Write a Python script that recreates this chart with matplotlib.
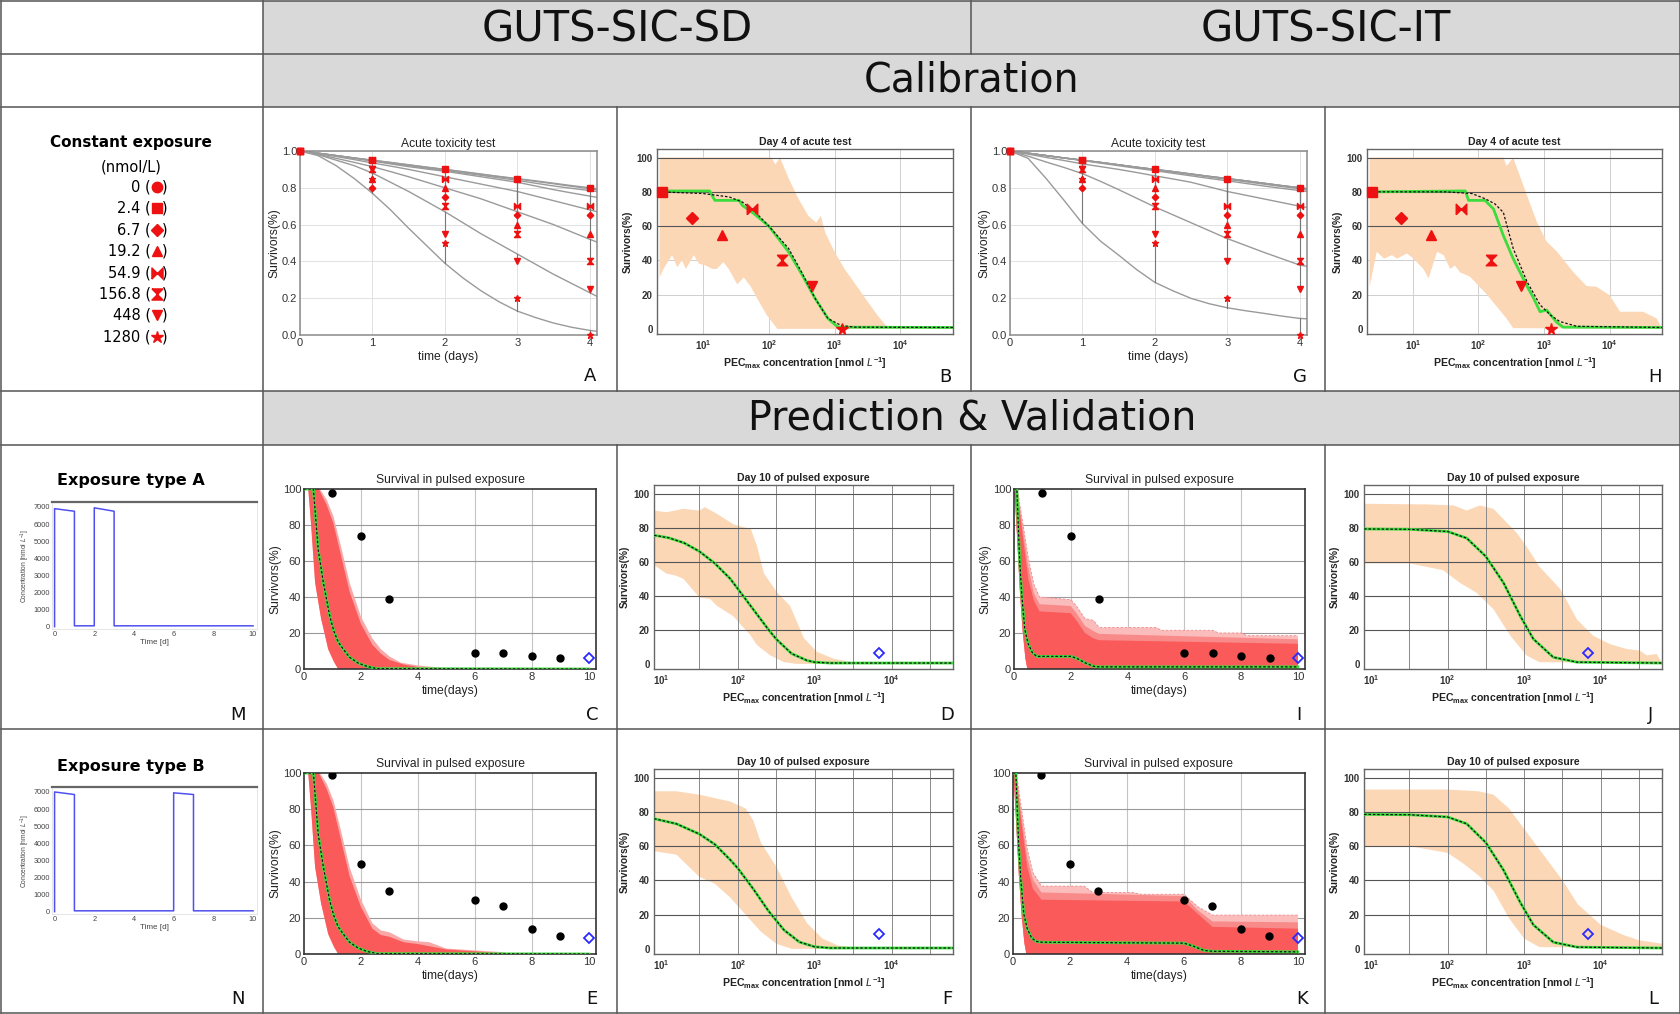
import numpy as np
import matplotlib
matplotlib.use('Agg')
import matplotlib.pyplot as plt
from matplotlib.patches import Rectangle
from matplotlib.path import Path

W, H = 1681, 1014

plt.rcParams['font.family'] = ['Liberation Sans', 'DejaVu Sans']
plt.rcParams['mathtext.fontset'] = 'custom'
plt.rcParams['mathtext.rm'] = 'Liberation Sans'
plt.rcParams['mathtext.it'] = 'Liberation Sans:italic'
plt.rcParams['mathtext.bf'] = 'Liberation Sans:bold'

# ---------------- data ----------------
conc_labels = ['0', '2.4', '6.7', '19.2', '54.9', '156.8', '448', '1280']
conc_values = [0, 2.4, 6.7, 19.2, 54.9, 156.8, 448, 1280]

# acute test, observed survival fraction at days 0..4
days_obs = [0, 1, 2, 3, 4]
obs_surv = [
    [1.0, 0.95, 0.90, 0.85, 0.80],
    [1.0, 0.95, 0.90, 0.85, 0.80],
    [1.0, 0.80, 0.75, 0.65, 0.65],
    [1.0, 0.85, 0.80, 0.60, 0.55],
    [1.0, 0.95, 0.85, 0.70, 0.70],
    [1.0, 0.90, 0.70, 0.55, 0.40],
    [1.0, 0.90, 0.55, 0.40, 0.25],
    [1.0, 0.85, 0.50, 0.20, 0.00],
]

# model curves (read every quarter day)
days_model = [0, 0.25, 0.5, 0.75, 1, 1.25, 1.5, 1.75, 2, 2.25, 2.5, 2.75, 3, 3.25, 3.5, 3.75, 4, 4.1]
sd_model = [
    [1.0, 0.988, 0.975, 0.962, 0.95, 0.938, 0.925, 0.912, 0.90, 0.888, 0.875, 0.862, 0.85, 0.838, 0.825, 0.812, 0.80, 0.795],
    [1.0, 0.988, 0.975, 0.962, 0.95, 0.937, 0.925, 0.912, 0.90, 0.886, 0.873, 0.86, 0.848, 0.835, 0.822, 0.808, 0.795, 0.79],
    [1.0, 0.988, 0.975, 0.962, 0.948, 0.934, 0.92, 0.907, 0.895, 0.881, 0.868, 0.854, 0.84, 0.825, 0.81, 0.797, 0.785, 0.78],
    [1.0, 0.988, 0.975, 0.96, 0.945, 0.93, 0.915, 0.902, 0.89, 0.875, 0.86, 0.845, 0.83, 0.81, 0.79, 0.772, 0.755, 0.748],
    [1.0, 0.986, 0.97, 0.953, 0.935, 0.918, 0.90, 0.88, 0.86, 0.84, 0.82, 0.80, 0.78, 0.755, 0.73, 0.705, 0.68, 0.67],
    [1.0, 0.982, 0.96, 0.938, 0.915, 0.888, 0.86, 0.83, 0.80, 0.77, 0.74, 0.705, 0.67, 0.635, 0.60, 0.56, 0.52, 0.505],
    [1.0, 0.98, 0.95, 0.92, 0.88, 0.83, 0.78, 0.725, 0.67, 0.61, 0.55, 0.495, 0.44, 0.385, 0.33, 0.28, 0.23, 0.21],
    [1.0, 0.975, 0.92, 0.85, 0.77, 0.68, 0.58, 0.485, 0.39, 0.31, 0.24, 0.18, 0.13, 0.095, 0.065, 0.042, 0.025, 0.02],
]
it_model = [
    [1.0, 0.988, 0.975, 0.962, 0.95, 0.938, 0.925, 0.912, 0.90, 0.888, 0.875, 0.862, 0.85, 0.838, 0.825, 0.812, 0.80, 0.795],
    [1.0, 0.988, 0.975, 0.962, 0.95, 0.938, 0.925, 0.912, 0.90, 0.888, 0.875, 0.862, 0.85, 0.838, 0.825, 0.812, 0.80, 0.795],
    [1.0, 0.988, 0.975, 0.962, 0.95, 0.938, 0.925, 0.912, 0.90, 0.888, 0.875, 0.862, 0.85, 0.838, 0.825, 0.812, 0.80, 0.795],
    [1.0, 0.988, 0.975, 0.962, 0.95, 0.937, 0.925, 0.911, 0.898, 0.885, 0.872, 0.859, 0.846, 0.833, 0.82, 0.807, 0.795, 0.79],
    [1.0, 0.988, 0.975, 0.961, 0.948, 0.934, 0.92, 0.906, 0.893, 0.879, 0.865, 0.851, 0.838, 0.824, 0.81, 0.797, 0.785, 0.78],
    [1.0, 0.983, 0.965, 0.948, 0.93, 0.915, 0.90, 0.883, 0.865, 0.848, 0.83, 0.805, 0.78, 0.76, 0.74, 0.72, 0.70, 0.693],
    [1.0, 0.972, 0.94, 0.91, 0.877, 0.835, 0.79, 0.743, 0.696, 0.653, 0.61, 0.567, 0.524, 0.487, 0.45, 0.415, 0.38, 0.373],
    [1.0, 0.96, 0.85, 0.73, 0.606, 0.51, 0.434, 0.355, 0.286, 0.24, 0.199, 0.17, 0.148, 0.132, 0.118, 0.103, 0.09, 0.088],
]

# day 4 dose-response (B: SD, H: IT), log10 concentration / survival %
b_up_logc = [0.34, 2.04, 2.1, 2.17, 2.3, 2.45, 2.6, 2.72, 2.79, 2.86, 3.0, 3.15, 3.3, 3.5, 3.65, 3.78, 3.85, 4.8]
b_up_val = [100, 100, 96, 100, 88, 76, 66, 62, 66, 56, 45, 35, 27, 16, 8, 2, 0.5, 0.5]
b_lo_logc = [0.34, 0.40, 0.53, 0.61, 0.68, 0.74, 0.86, 0.94, 1.04, 1.14, 1.21, 1.31, 1.39, 1.52, 1.62, 1.72, 1.82, 1.97, 2.13, 4.8]
b_lo_val = [30, 35, 43, 36, 40, 35, 43, 38, 37, 35, 35, 39, 35, 26, 30, 25, 18, 8, 0, 0]
b_dash_logc = [0.34, 1.0, 1.4, 1.6, 1.8, 2.0, 2.3, 2.5, 2.7, 2.9, 3.1, 3.3, 4.8]
b_dash_val = [80, 79, 77, 74, 68, 60, 47, 33, 18, 6, 2, 1, 0.8]
b_green_logc = [0.34, 1.1, 1.18, 1.55, 1.6, 1.75, 2.0, 2.3, 2.5, 2.7, 2.9, 3.05, 4.8]
b_green_val = [80.5, 80.5, 75, 75, 72, 68, 60, 45, 32, 18, 6, 1, 0.8]

h_up_logc = [0.34, 2.38, 2.43, 2.53, 2.74, 2.89, 3.04, 3.2, 3.45, 3.65, 3.8, 4.0, 4.16, 4.26, 4.51, 4.72]
h_up_val = [100, 100, 95, 100, 78, 62.5, 51, 45, 33, 25, 24.6, 19.6, 10, 10, 10, 6]
h_lo_logc = [0.34, 0.45, 0.56, 0.68, 0.76, 0.91, 1.01, 1.16, 1.24, 1.37, 1.47, 1.57, 1.64, 1.72, 1.87, 2.13, 2.43, 2.53, 4.8]
h_lo_val = [24.6, 45, 41, 43, 41, 44, 41, 35, 29.5, 45, 43, 35, 37, 33, 30.5, 20, 6, 0.4, 0]
h_dash_logc = [0.34, 1.5, 1.9, 2.1, 2.25, 2.38, 2.53, 2.74, 2.94, 3.1, 3.24, 3.5, 4.8]
h_dash_val = [80, 80, 79, 76, 73, 68, 47, 27.6, 14, 8, 4.3, 1.5, 0.8]
h_green_logc = [0.34, 1.75, 1.8, 1.85, 2.1, 2.23, 2.38, 2.53, 2.74, 2.84, 2.94, 3.04, 3.19, 3.29, 4.8]
h_green_val = [80, 80.5, 80.5, 75, 75, 70, 54.5, 41, 25, 18, 10, 11, 4, 1, 0.8]

# day 10 of pulsed exposure (D, F: SD; J, L: IT)
d_up_logc = [0.91, 1.07, 1.29, 1.5, 1.57, 1.73, 1.94, 2.17, 2.25, 2.34, 2.51, 2.68, 2.86, 3.03, 3.25, 3.47, 3.7, 4.8]
d_up_val = [90, 89, 91, 90, 92, 88, 82, 79, 69, 53, 42, 34, 15, 7, 3, 1, 0.5, 0.5]
d_lo_logc = [0.91, 1.07, 1.18, 1.29, 1.5, 1.64, 1.73, 1.94, 2.16, 2.25, 2.42, 2.6, 2.77, 4.8]
d_lo_val = [58, 53, 52, 50, 39, 38, 34, 28, 17, 11, 5, 1, 0, 0]
d_mean_logc = [0.91, 1.1, 1.3, 1.5, 1.7, 1.9, 2.0, 2.2, 2.4, 2.5, 2.7, 2.9, 3.0, 3.2, 4.8]
d_mean_val = [75.5, 74, 71, 66, 59, 50, 44, 32, 20, 14.5, 6, 2, 1, 0.5, 0.5]

f_up_logc = [0.91, 1.2, 1.5, 1.7, 1.9, 2.1, 2.2, 2.3, 2.5, 2.7, 2.9, 3.1, 3.3, 3.5, 4.8]
f_up_val = [92, 92, 90, 88, 86, 82, 75, 62, 48, 30, 15, 6, 2, 0.8, 0.5]
f_lo_logc = [0.91, 1.2, 1.5, 1.7, 1.9, 2.1, 2.3, 2.5, 2.7, 4.8]
f_lo_val = [57, 55, 42, 38, 30, 20, 10, 3, 0, 0]
f_mean_logc = [0.91, 1.2, 1.5, 1.7, 1.9, 2.0, 2.2, 2.4, 2.6, 2.8, 3.0, 3.2, 4.8]
f_mean_val = [76, 73, 67, 61, 52, 47, 35, 22, 11, 4, 1.2, 0.5, 0.5]

j_up_logc = [0.91, 1.73, 2.08, 2.25, 2.42, 2.6, 2.77, 2.9, 3.03, 3.2, 3.47, 3.69, 3.9, 4.12, 4.34, 4.51, 4.6, 4.73]
j_up_val = [94, 93.6, 93, 90, 93, 91, 83, 77, 69, 57, 44, 26, 16.5, 11.6, 8.7, 7.8, 5, 5.8]
j_lo_logc = [0.91, 1.5, 1.94, 2.16, 2.38, 2.6, 2.82, 3.03, 3.2, 4.8]
j_lo_val = [59, 59, 55, 47.6, 41.7, 32, 16.5, 5, 1, 0.5]
j_mean_logc = [0.91, 1.5, 2.0, 2.25, 2.5, 2.73, 2.95, 3.12, 3.38, 3.69, 4.8]
j_mean_val = [79.2, 79, 77.7, 73.8, 63, 47.6, 28, 14.6, 3.9, 1, 0.5]

l_up_logc = [0.91, 1.5, 2.0, 2.4, 2.6, 2.8, 3.0, 3.2, 3.5, 3.7, 4.0, 4.3, 4.5, 4.8]
l_up_val = [93, 93, 93, 92, 90, 82, 70, 58, 40, 26, 14, 8, 5, 3]
l_lo_logc = [0.91, 1.5, 2.0, 2.2, 2.4, 2.6, 2.8, 3.0, 3.2, 4.8]
l_lo_val = [60, 60, 56, 50, 43, 34, 18, 6, 1, 0.5]
l_mean_logc = [0.91, 1.5, 2.0, 2.25, 2.5, 2.73, 2.95, 3.12, 3.38, 3.69, 4.8]
l_mean_val = [78.5, 78.3, 77, 73, 62, 46, 27, 14, 3.9, 1, 0.5]

# observed survival (%) in the pulsed experiments
pulse_days = [1, 2, 3, 6, 7, 8, 9]
pulse_a_obs = [98, 74, 39, 9, 9, 7.5, 6.3]
pulse_b_obs = [99, 50, 35, 30, 26.6, 13.7, 10]
day10_day = 10
pulse_a_day10 = 6.1
pulse_b_day10 = 8.7
pulse_peak_conc = 6900

# survival over time in pulsed exposure (C, E: SD; I, K: IT)
c_out_t = [0, 0.56, 0.8, 1.03, 1.3, 1.6, 2.0, 2.4, 2.7, 3.0, 3.4, 4.0, 4.6, 5.3]
c_out_v = [100, 100, 94, 85, 68, 48, 29, 17, 11, 7, 3.5, 2, 1, 0]
c_in_t = [0, 0.52, 0.8, 1.03, 1.3, 1.6, 2.0, 2.4, 2.7, 3.0, 3.5, 4.2]
c_in_v = [100, 100, 91, 81, 63, 43, 25, 13.5, 8.5, 5, 2.5, 0.5]
sd_lo_t = [0, 0.15, 0.25, 0.39, 0.6, 0.85, 1.05, 1.2]
sd_lo_v = [100, 100, 80, 48, 28, 11, 4, 0]
sd_mean_t = [0, 0.33, 0.42, 0.5, 0.6, 0.68, 0.8, 0.91, 1.05, 1.2, 1.38, 1.6, 1.9, 2.2, 2.55, 10.0]
sd_mean_v = [100, 100, 82, 66, 56, 48, 38, 29, 21, 15, 11, 6.5, 3.3, 1.5, 0.2, 0]

e_out_t = [0, 0.56, 0.8, 1.03, 1.3, 1.6, 2.0, 2.4, 2.7, 3.0, 3.5, 4.0, 4.4, 5.0, 6.0, 7.0, 7.2]
e_out_v = [100, 100, 94, 85, 68, 48, 30, 17, 13, 12, 8, 7, 6.5, 3, 2, 1, 0]
e_in_t = [0, 0.52, 0.8, 1.03, 1.3, 1.6, 2.0, 2.4, 2.7, 3.0, 3.5, 4.0, 5.0, 6.0, 7.0]
e_in_v = [100, 100, 91, 81, 63, 43, 26, 14, 10.5, 9.5, 6.5, 5.5, 2.5, 1.5, 0.3]

i_out_t = [0, 0.12, 0.3, 0.5, 0.7, 0.9, 2.0, 2.2, 2.5, 2.8, 3.0, 5.0, 5.2, 7.0, 7.2, 8.0, 8.2, 10.0]
i_out_v = [100, 100, 82, 62, 47, 40, 38.5, 35, 28, 27, 23, 23, 21.5, 21.5, 20, 20, 18.5, 18.5]
i_mid_t = [0, 0.11, 0.3, 0.5, 0.7, 0.9, 2.0, 2.2, 2.5, 2.8, 3.0, 10.0]
i_mid_v = [100, 100, 79, 57, 42, 36, 35, 31, 24, 21, 19.5, 16.5]
i_in_t = [0, 0.1, 0.3, 0.5, 0.7, 0.9, 2.0, 2.2, 2.5, 2.8, 3.0, 10.0]
i_in_v = [100, 100, 75, 50, 38, 32, 31, 27, 20, 17, 16, 14]
it_lo_t = [0, 0.05, 0.12, 0.2, 0.3, 0.4, 0.47, 10.0]
it_lo_v = [100, 90, 70, 45, 22, 6, 0, 0]
i_mean_t = [0, 0.1, 0.15, 0.2, 0.28, 0.38, 0.5, 0.65, 0.8, 1.0, 2.0, 2.2, 2.5, 2.8, 3.0, 10.0]
i_mean_v = [100, 100, 80, 60, 40, 22, 14, 9, 7, 7, 7, 6, 3.5, 1.5, 1.2, 1.2]

k_out_t = [0, 0.12, 0.3, 0.5, 0.7, 1.0, 2.5, 2.8, 4.2, 4.5, 6.0, 6.5, 7.0, 10.0]
k_out_v = [100, 100, 80, 58, 45, 37.5, 37.5, 34, 34, 33, 33, 26, 21.5, 21.5]
k_mid_t = [0, 0.11, 0.3, 0.5, 0.7, 1.0, 6.0, 6.5, 7.0, 10.0]
k_mid_v = [100, 100, 76, 53, 41, 34, 32, 24, 18, 17.5]
k_in_t = [0, 0.1, 0.3, 0.5, 0.7, 1.0, 6.0, 6.5, 7.0, 10.0]
k_in_v = [100, 100, 72, 48, 36, 30, 29, 22, 15, 14]
k_mean_t = [0, 0.1, 0.15, 0.2, 0.28, 0.38, 0.5, 0.65, 0.8, 1.0, 6.0, 6.3, 6.7, 7.0, 10.0]
k_mean_v = [100, 100, 80, 60, 40, 22, 14, 9, 7, 6.5, 6, 4.5, 2, 1.5, 1.2]

# exposure profiles (M: type A, N: type B)
exp_a_t = [0, 0, 1, 1, 2, 2, 3, 3, 10]
exp_a_c = [0, 6900, 6750, 50, 50, 6950, 6750, 50, 50]
exp_b_t = [0, 0, 1, 1, 6, 6, 7, 7, 10]
exp_b_c = [0, 7000, 6850, 50, 50, 6950, 6850, 50, 50]

# ---------------- markers ----------------
bowtie = Path([(-1, -1), (-1, 1), (1, -1), (1, 1), (-1, -1)])
hourglass = Path([(-1, 1), (1, 1), (-1, -1), (1, -1), (-1, 1)])
conc_markers = ['o', 's', 'D', '^', bowtie, hourglass, 'v', '*']
conc_msize = [7.5, 7.5, 6, 7.5, 8, 8, 7.5, 9]
RED = '#ee1111'

fig = plt.figure(figsize=(W / 100, H / 100), dpi=100)

bg = fig.add_axes([0, 0, 1, 1])
bg.set_xlim(0, W)
bg.set_ylim(H, 0)
bg.axis('off')

rows = [1, 54, 107, 391, 445, 729, 1013]
GRAY = '#d9d9d9'
LINE = '#555555'

for (x0, x1, y0, y1) in [(263, 971, 1, 54), (971, 1680, 1, 54), (263, 1680, 54, 107), (263, 1680, 391, 445)]:
    bg.add_patch(Rectangle((x0, y0), x1 - x0, y1 - y0, color=GRAY, lw=0))

for y in rows:
    bg.plot([1, 1680], [y, y], color=LINE, lw=1.1)
for x in [1, 263, 1680]:
    bg.plot([x, x], [1, 1013], color=LINE, lw=1.1)
for (y0, y1) in [(1, 54), (107, 391), (445, 1013)]:
    bg.plot([971, 971], [y0, y1], color=LINE, lw=1.1)
for x in [617, 1325]:
    for (y0, y1) in [(107, 391), (445, 1013)]:
        bg.plot([x, x], [y0, y1], color=LINE, lw=1.1)

hdr = dict(family='DejaVu Sans', ha='center', va='center', color='#111')
bg.text(617, 29, 'GUTS-SIC-SD', fontsize=30, **hdr)
bg.text(1326, 29, 'GUTS-SIC-IT', fontsize=30, **hdr)
bg.text(972, 81, 'Calibration', fontsize=28.5, **hdr)
bg.text(972, 418, 'Prediction & Validation', fontsize=28.5, **hdr)

# legend for constant exposure
bg.text(131, 143, 'Constant exposure', family='DejaVu Sans', fontsize=11,
        fontweight='bold', ha='center', va='center')
bg.text(131, 167, '(nmol/L)', family='DejaVu Sans', fontsize=10.5, ha='center', va='center')
for i, (lab, mk, ms) in enumerate(zip(conc_labels, conc_markers, conc_msize)):
    yy = 187 + 21.4 * i
    bg.text(151, yy, lab + ' (', family='DejaVu Sans', fontsize=10.5, ha='right', va='center')
    bg.plot([157.5], [yy], marker=mk, ms=ms, color=RED, mec=RED, ls='none')
    bg.text(162, yy, ')', family='DejaVu Sans', fontsize=10.5, ha='left', va='center')

bg.text(131, 481, 'Exposure type A', family='DejaVu Sans', fontsize=11.5,
        fontweight='bold', ha='center', va='center')
bg.text(131, 766, 'Exposure type B', family='DejaVu Sans', fontsize=11.5,
        fontweight='bold', ha='center', va='center')

letters = [('A', 590, 376), ('B', 945, 377), ('G', 1300, 377), ('H', 1655, 377),
           ('M', 238, 715), ('C', 592, 715), ('D', 947, 715), ('I', 1299, 715), ('J', 1651, 715),
           ('N', 238, 999), ('E', 592, 999), ('F', 947, 999), ('K', 1302, 999), ('L', 1653, 999)]
for lab, x, y in letters:
    bg.text(x, y, lab, family='DejaVu Sans', fontsize=13, ha='center', va='center', color='#111')


def add_ax(x0, y0, x1, y1):
    return fig.add_axes([x0 / W, 1 - y1 / H, (x1 - x0) / W, (y1 - y0) / H])


def acute_panel(ax, model):
    for curve in model:
        ax.plot(days_model, curve, color='#9a9a9a', lw=1, zorder=2)
    for obs, curve in zip(obs_surv, model):
        for d, o in zip(days_obs, obs):
            m = curve[days_model.index(d)]
            ax.plot([d, d], [o, m], color='#777', lw=0.8, zorder=2)
    for obs, mk, ms in zip(obs_surv, conc_markers, conc_msize):
        ax.plot(days_obs, obs, ls='none', marker=mk, ms=ms * 0.55, color=RED, mec=RED,
                zorder=3, clip_on=False)
    ax.set_xlim(0, 4.1)
    ax.set_ylim(0, 1)
    ax.set_xticks([0, 1, 2, 3, 4])
    ax.set_yticks([0, 0.2, 0.4, 0.6, 0.8, 1.0])
    ax.set_yticklabels(['0.0', '0.2', '0.4', '0.6', '0.8', '1.0'])
    ax.grid(True, color='#dddddd', lw=0.6)
    ax.set_axisbelow(True)
    for s in ax.spines.values():
        s.set_color('#8a8a8a')
        s.set_lw(1.1)
    ax.tick_params(length=0, labelsize=8, labelcolor='#333', pad=2)
    ax.set_title('Acute toxicity test', fontsize=8.7, color='#222', pad=3)
    ax.set_xlabel('time (days)', fontsize=8.7, color='#222', labelpad=2)
    ax.set_ylabel('Survivors(%)', fontsize=8.7, color='#222', labelpad=1)


PEC = r'PEC$_{\mathbf{max}}$ concentration [nmol $\mathit{L}^{\mathbf{-1}}$]'


def dose_panel(ax, up_l, up_v, lo_l, lo_v, mean_l, mean_v, green_l, green_v,
               xmin, title, acute):
    xs = list(10 ** np.array(up_l)) + list(10 ** np.array(lo_l))[::-1]
    ys = list(up_v) + list(lo_v)[::-1]
    ax.fill(xs, ys, color='#fbd7b6', lw=0, zorder=1)
    if acute:
        for x in [10, 100, 1000, 10000]:
            ax.axvline(x, color='#cfcfcf', lw=0.7, zorder=0.5)
        for y in [20, 40]:
            ax.axhline(y, color='#cfcfcf', lw=0.7, zorder=0.5)
        for y in [60, 80, 100]:
            ax.axhline(y, color='#555', lw=0.8, zorder=2)
    else:
        for e in [1.5, 2, 2.5, 3, 3.5, 4, 4.5]:
            ax.axvline(10 ** e, color='#8a8a8a', lw=0.7, zorder=2)
        for y in [20, 40, 60, 80, 100]:
            ax.axhline(y, color='#555', lw=0.8, zorder=2)
    ax.plot(10 ** np.array(green_l), green_v, color='#3ddc3d', lw=2, zorder=3)
    ax.plot(10 ** np.array(mean_l), mean_v, color='#111', lw=0.9, ls=(0, (2, 1.5)), zorder=4)
    ax.set_xscale('log')
    ax.set_xlim(xmin, 6.3e4)
    ax.set_ylim(-3, 105)
    ax.set_xticks([10, 100, 1000, 10000])
    ax.set_xticklabels([r'$\mathbf{10^{1}}$', r'$\mathbf{10^{2}}$', r'$\mathbf{10^{3}}$',
                        r'$\mathbf{10^{4}}$'])
    ax.minorticks_off()
    ax.set_yticks([0, 20, 40, 60, 80, 100])
    for lab in ax.get_yticklabels():
        lab.set_fontweight('bold')
    ax.tick_params(length=0, labelsize=7, labelcolor='#333', pad=3)
    for s in ax.spines.values():
        s.set_color('#666')
        s.set_lw(1)
    ax.set_title(title, fontsize=7.6, fontweight='bold', color='#222', pad=3)
    ax.set_xlabel(PEC, fontsize=7.6, fontweight='bold', color='#222', labelpad=2)
    ax.set_ylabel('Survivors(%)', fontsize=7.3, fontweight='bold', color='#222', labelpad=3)


def day4_points(ax):
    for c, obs, mk, ms in zip(conc_values[1:], obs_surv[1:], conc_markers[1:], conc_msize[1:]):
        ax.plot([c], [obs[-1] * 100], ls='none', marker=mk, ms=ms * 0.95, color=RED, mec=RED,
                zorder=5, clip_on=False)


def day10_point(ax, val):
    ax.plot([pulse_peak_conc], [val], ls='none', marker='D', ms=5.5, mfc='none', mec='#2a2aff',
            mew=1.3, zorder=5)


def pulse_panel(ax, layers, lo_t, lo_v, mean_t, mean_v, obs, d10, edge=None):
    for (ut, uv, col) in layers:
        xs = list(ut) + list(lo_t)[::-1]
        ys = list(uv) + list(lo_v)[::-1]
        ax.fill(xs, ys, color=col, lw=0, zorder=1)
    if edge is not None:
        ax.plot(edge[0], edge[1], color='#f08a8a', lw=0.6, ls=(0, (3, 2)), zorder=1.5)
    ax.plot(mean_t, mean_v, color='#3ddc3d', lw=2, zorder=3)
    ax.plot(mean_t, mean_v, color='#111', lw=0.9, ls=(0, (2, 1.5)), zorder=4)
    ax.plot(pulse_days, obs, ls='none', marker='o', ms=5, color='black', zorder=5)
    ax.plot([day10_day], [d10], ls='none', marker='D', ms=5, mfc='none', mec='#2a2aff',
            mew=1.3, zorder=5)
    ax.set_xlim(0, 10.25)
    ax.set_ylim(0, 100)
    ax.set_xticks([0, 2, 4, 6, 8, 10])
    ax.set_yticks([0, 20, 40, 60, 80, 100])
    for x in [2, 4, 6, 8]:
        ax.axvline(x, color='#c4c4c4', lw=0.8, zorder=0.5)
    for y in [20, 40, 60, 80]:
        ax.axhline(y, color='#9a9a9a', lw=0.8, zorder=0.5)
    for s in ax.spines.values():
        s.set_color('#333')
        s.set_lw(1.2)
    ax.tick_params(length=0, labelsize=8, labelcolor='#333', pad=2)
    ax.set_title('Survival in pulsed exposure', fontsize=8.7, color='#222', pad=4)
    ax.set_xlabel('time(days)', fontsize=8.7, color='#222', labelpad=2)
    ax.set_ylabel('Survivors(%)', fontsize=8.7, color='#222', labelpad=1)


def exposure_panel(ax, t, c):
    ax.plot(t, c, color='#5050f0', lw=1.1)
    ax.set_xlim(-0.13, 10.2)
    ax.set_ylim(-136, 7290)
    ax.set_xticks([0, 2, 4, 6, 8, 10])
    ax.set_yticks([0, 1000, 2000, 3000, 4000, 5000, 6000, 7000])
    ax.tick_params(length=0, labelsize=5.3, labelcolor='#444', pad=1.5)
    for s in ['left', 'bottom', 'right']:
        ax.spines[s].set_color('#e2e2e2')
        ax.spines[s].set_lw(0.6)
    ax.spines['top'].set_color('#666')
    ax.spines['top'].set_lw(1.6)
    ax.set_xlabel('Time [d]', fontsize=5.8, color='#444', labelpad=1)
    ax.set_ylabel(r'Concentration [nmol $L^{-1}$]', fontsize=4.8, color='#444', labelpad=1)


# row 2: calibration
axA = add_ax(300, 151, 597, 335)
acute_panel(axA, sd_model)
axG = add_ax(1010, 151, 1307, 335)
acute_panel(axG, it_model)

axB = add_ax(657, 149, 953, 334)
dose_panel(axB, b_up_logc, b_up_val, b_lo_logc, b_lo_val, b_dash_logc, b_dash_val,
           b_green_logc, b_green_val, 2.0, 'Day 4 of acute test', True)
day4_points(axB)
axH = add_ax(1367, 149, 1662, 334)
dose_panel(axH, h_up_logc, h_up_val, h_lo_logc, h_lo_val, h_dash_logc, h_dash_val,
           h_green_logc, h_green_val, 2.0, 'Day 4 of acute test', True)
day4_points(axH)

# exposure profiles
axM = add_ax(52, 502, 257, 629)
exposure_panel(axM, exp_a_t, exp_a_c)
axN = add_ax(52, 787, 257, 914)
exposure_panel(axN, exp_b_t, exp_b_c)

LIGHT, DEEP = '#f9a8a8', '#fa5a5a'

axC = add_ax(304, 489, 596, 669)
pulse_panel(axC, [(c_out_t, c_out_v, LIGHT), (c_in_t, c_in_v, DEEP)], sd_lo_t, sd_lo_v,
            sd_mean_t, sd_mean_v, pulse_a_obs, pulse_a_day10)
axE = add_ax(304, 773, 596, 954)
pulse_panel(axE, [(e_out_t, e_out_v, LIGHT), (e_in_t, e_in_v, DEEP)], sd_lo_t, sd_lo_v,
            sd_mean_t, sd_mean_v, pulse_b_obs, pulse_b_day10)
axI = add_ax(1014, 489, 1305, 669)
pulse_panel(axI, [(i_out_t, i_out_v, '#fbbcbc'), (i_mid_t, i_mid_v, '#f98a8a'),
                  (i_in_t, i_in_v, DEEP)], it_lo_t, it_lo_v,
            i_mean_t, i_mean_v, pulse_a_obs, pulse_a_day10, edge=(i_out_t, i_out_v))
axK = add_ax(1013, 773, 1305, 954)
pulse_panel(axK, [(k_out_t, k_out_v, '#fbbcbc'), (k_mid_t, k_mid_v, '#f98a8a'),
                  (k_in_t, k_in_v, DEEP)], it_lo_t, it_lo_v,
            k_mean_t, k_mean_v, pulse_b_obs, pulse_b_day10, edge=(k_out_t, k_out_v))

axD = add_ax(654, 485, 953, 669)
dose_panel(axD, d_up_logc, d_up_val, d_lo_logc, d_lo_val, d_mean_logc, d_mean_val,
           d_mean_logc, d_mean_val, 8.1, 'Day 10 of pulsed exposure', False)
day10_point(axD, pulse_a_day10)
axF = add_ax(654, 769, 953, 954)
dose_panel(axF, f_up_logc, f_up_val, f_lo_logc, f_lo_val, f_mean_logc, f_mean_val,
           f_mean_logc, f_mean_val, 8.1, 'Day 10 of pulsed exposure', False)
day10_point(axF, pulse_b_day10)
axJ = add_ax(1364, 485, 1662, 669)
dose_panel(axJ, j_up_logc, j_up_val, j_lo_logc, j_lo_val, j_mean_logc, j_mean_val,
           j_mean_logc, j_mean_val, 8.1, 'Day 10 of pulsed exposure', False)
day10_point(axJ, pulse_a_day10)
axL = add_ax(1364, 769, 1662, 954)
dose_panel(axL, l_up_logc, l_up_val, l_lo_logc, l_lo_val, l_mean_logc, l_mean_val,
           l_mean_logc, l_mean_val, 8.1, 'Day 10 of pulsed exposure', False)
day10_point(axL, pulse_b_day10)

fig.savefig('out.png', dpi=100)
